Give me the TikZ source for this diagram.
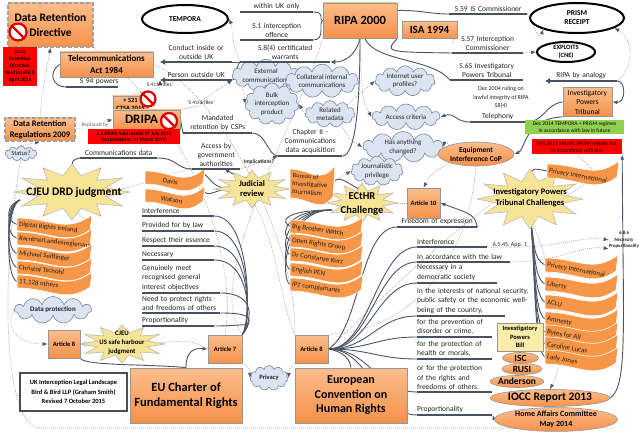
\documentclass[tikz,border=0pt]{standalone}
\usepackage{fontspec}
\setmainfont{Carlito}
\usetikzlibrary{shapes.geometric,shapes.symbols,arrows.meta,calc}
\pgfdeclarelayer{bg}
\pgfsetlayers{bg,main}
\newcommand\myfs[2]{\fontsize{#1}{#2}\selectfont}
\definecolor{orTop}{RGB}{252,190,140}
\definecolor{orBot}{RGB}{246,145,75}
\definecolor{orBorder}{RGB}{150,150,150}
\definecolor{burstFill}{RGB}{248,228,150}
\definecolor{burstDraw}{RGB}{185,185,185}
\definecolor{cloudFill}{RGB}{220,228,242}
\definecolor{cloudDraw}{RGB}{120,135,160}
\definecolor{flagFill}{RGB}{247,150,70}
\definecolor{barCol}{RGB}{72,82,98}
\definecolor{connCol}{RGB}{75,85,100}
\definecolor{dotCol}{RGB}{165,165,165}
\definecolor{greenBox}{RGB}{146,208,80}
\definecolor{billFill}{RGB}{252,236,170}
\definecolor{txt}{RGB}{35,35,35}
\tikzset{
 obox/.style={rectangle, draw=orBorder, line width=0.8pt, top color=orTop, bottom color=orBot, align=center, text=black, inner sep=1pt},
 dashbox/.style={obox, draw=gray!75, line width=1.4pt, dash pattern=on 4pt off 2pt},
 redbox/.style={rectangle, fill=red, align=center, text=black, inner sep=0.5pt},
 forbid/.style={circle, draw=red!85!black, line width=2.2pt, fill=white, inner sep=0pt},
 forbidline/.style={draw=red!85!black, line width=2.2pt},
 blackell/.style={ellipse, draw=black, line width=2pt, fill=white, align=center, inner sep=0pt},
 oell/.style={ellipse, draw=orBorder, line width=0.6pt, top color=orTop, bottom color=orBot, align=center, inner sep=0pt, text=black},
 cloudn/.style={cloud, cloud puffs=11, cloud ignores aspect, draw=cloudDraw, fill=cloudFill, line width=0.6pt, align=center, inner sep=0pt, text=txt, font=\myfs{7}{8.5}},
 burst/.style={fill=burstFill, draw=burstDraw, line width=0.6pt},
 bursttext/.style={align=center, text=black, inner sep=0pt},
 flag/.style={fill=flagFill, draw=white, line width=0.6pt},
 flagtext/.style={inner sep=0pt, text=txt, font=\myfs{7}{8}, align=left},
 lbl/.style={anchor=south west, inner xsep=0pt, inner ysep=2.2pt, text=txt, font=\myfs{7.5}{9}},
 bar/.style={draw=barCol, line width=2.4pt},
 conn/.style={draw=connCol, line width=0.9pt},
 connA/.style={conn, -{Latex[length=5pt,width=4pt]}},
 dots/.style={draw=dotCol, line width=0.7pt, dash pattern=on 0.8pt off 1.2pt},
 dotA/.style={dots, -{Latex[length=5pt,width=4pt,color=connCol]}},
 note/.style={inner sep=0pt, text=txt, align=center}
}
\newcommand\mkburst[5]{%
  \filldraw[burst] plot[samples at={0,15,...,345}] ({#2+#4*(1-0.4*mod(round(\x/15),2))*cos(\x)},{#3+#5*(1-0.4*mod(round(\x/15),2))*sin(\x)}) -- cycle;
  \coordinate (#1-n) at (#2,#3-#5*0.6);
  \coordinate (#1-s) at (#2,#3+#5*0.6);
  \coordinate (#1-e) at (#2+#4*0.6,#3);
  \coordinate (#1-w) at (#2-#4*0.6,#3);
}
\newcommand\mkflag[7]{%
 \begin{scope}[shift={(#2,#3)}]
  \filldraw[flag] (0,0) .. controls (0.45*#4,0) and (0.65*#4,16) .. (#4,-3) -- (#4-2,#5-1) .. controls (0.65*#4,#5+16) and (0.45*#4,#5) .. (0,#5) -- cycle;
  \node[flagtext, anchor=west, rotate=#7] (#1) at (2,0.5*#5) {#6};
  \coordinate (#1-l) at (0,0.5*#5);
  \coordinate (#1-r) at (#4,0.5*#5-3);
 \end{scope}}
\newcommand\mkforbid[3]{\node[forbid, minimum size=#3pt] (#1) at #2 {}; \draw[forbidline] (#1.north west) -- (#1.south east);}
\begin{document}
\begin{tikzpicture}[x=1pt,y=-1pt]
\useasboundingbox (0,0) rectangle (640,433);

% ---------- top left
\node[dashbox, minimum width=85pt, minimum height=44pt, font=\myfs{11.5}{15}\bfseries] (drd) at (50.5,25) {Data Retention\\Directive};
\mkforbid{nf1}{(18,32)}{17}
\node[redbox, minimum width=34pt, minimum height=39pt, font=\myfs{5.3}{7}\bfseries] (red1) at (20,66.5) {Data\\Retention\\Directive\\held invalid 8\\April 2014};
\node[obox, minimum width=93pt, minimum height=25pt, font=\myfs{9}{11.5}\bfseries] (tel) at (106.5,64.5) {Telecommunications\\Act 1984};
\node[obox, minimum width=35pt, minimum height=16pt, font=\myfs{6.5}{8}\bfseries] (ctsa) at (130.5,104) {+ S21\\CTSA 2015};
\mkforbid{nf2}{(148,99)}{15}
\node[obox, minimum width=67pt, minimum height=19pt, font=\myfs{13}{14}\bfseries] (dripa) at (146.5,119.5) {DRIPA\hspace*{10pt}};
\mkforbid{nf3}{(169,121)}{16}
\node[redbox, minimum width=92pt, minimum height=15pt, font=\myfs{5.2}{6.5}\bfseries] (red2) at (134,137) {S.1 DRIPA held invalid 17 July 2015\\(suspended to 31 March 2016)};
\node[dashbox, minimum width=70pt, minimum height=23pt, font=\myfs{8.5}{10.5}\bfseries] (drr) at (40,129.5) {Data Retention\\Regulations 2009};
\node[note, font=\myfs{5.5}{6.5}, text=gray!80!black, fill=white, inner sep=0.5pt] (repl) at (95,125) {Replaced by};
\node[cloudn, minimum width=32pt, minimum height=15pt, font=\myfs{6.5}{7}] (status) at (21,153.5) {Status?};
\node[note, font=\myfs{5.5}{6.5}] (cl1) at (160,85) {S 4'clarifies'};
\node[note, font=\myfs{5.5}{6.5}] (cl2) at (201,103) {'S 4'clarifies'};

% ---------- top centre
\node[blackell, minimum width=86pt, minimum height=28pt, font=\myfs{7.5}{9}\bfseries] (tempora) at (185,19) {TEMPORA};
\node[lbl, text width=73pt, align=center] (withinuk) at (240,12) {within UK only};
\node[lbl, text width=73pt, align=center] (s1) at (240,40) {S.1 interception\\offence};
\node[lbl, text width=90pt, align=center] (s84) at (240,62) {S.8(4) certificated\\warrants};
\node[lbl, text width=72pt, align=center] (conduct) at (160,62) {Conduct inside or\\outside UK};
\node[lbl, text width=72pt, align=center] (person) at (160,80) {Person outside UK};
\node[lbl, text width=52pt, align=right] (s94) at (66,87) {S 94 powers};
\node[lbl, text width=69pt, align=center] (mandated) at (183,133) {Mandated\\retention by CSPs};
\node[lbl, text width=77pt, align=center] (commdata) at (80,158) {Communications data};
\node[lbl, text width=48pt, align=center] (accessby) at (192,169) {Access by\\government\\authorities};
\node[lbl, text width=64pt, align=center] (chap2) at (278,156) {Chapter II -\\Communications\\data acquisition};
\node[note, font=\myfs{5.5}{6.5}\bfseries] (implic) at (259,162) {Implications?};

\node[obox, minimum width=74pt, minimum height=35pt, font=\myfs{12.5}{14}\bfseries] (ripa) at (360,20.5) {RIPA 2000};
\node[obox, minimum width=55pt, minimum height=17pt, font=\myfs{11}{12}\bfseries] (isa) at (429.5,30) {ISA 1994};
\node[lbl, text width=78pt, align=center] (s59) at (449,14) {S.59 IS Commissioner};
\node[lbl, text width=71pt, align=center] (s57) at (452,53) {S.57 Interception\\Commissioner};
\node[lbl, text width=73pt, align=center] (s65) at (450,80) {S.65 Investigatory\\Powers Tribunal};

% ---------- top right
\node[blackell, minimum width=94pt, minimum height=30pt, font=\myfs{7.5}{9}\bfseries] (prism) at (577,18) {PRISM\\RECEIPT};
\node[blackell, minimum width=58pt, minimum height=20pt, font=\myfs{6.5}{7.5}\bfseries] (exploits) at (566,52) {EXPLOITS\\(CNE)};
\node[lbl, text width=72pt, align=center] (ripaan) at (545,81) {RIPA by analogy};
\node[note, font=\myfs{6}{8.3}] (dec2004) at (501,97.5) {Dec 2004 ruling on\\lawful integrity of RIPA\\S8(4)};
\node[lbl, text width=55pt, align=center] (telephony) at (470,122) {Telephony};
\node[obox, minimum width=49pt, minimum height=29pt, inner sep=0.5pt, font=\myfs{7.5}{9.5}] (ipt) at (587.5,102) {Investigatory\\Powers\\Tribunal};
\node[rectangle, fill=greenBox, minimum width=99pt, minimum height=14pt, inner sep=0.5pt, align=center, font=\myfs{5.5}{6.5}, text=black] (green) at (574.5,127) {Dec 2014 TEMPORA + PRISM regimes\\in accordance with law in future};
\node[redbox, minimum width=90pt, minimum height=15pt, font=\myfs{5.5}{6.5}] (red3) at (577,147) {Feb 2015 historic PRISM regime not\\in accordance with law};

% ---------- clouds
\node[cloudn, minimum width=54pt, minimum height=24pt] (extcom) at (266,75.5) {External\\communications};
\node[cloudn, minimum width=70pt, minimum height=28pt] (collat) at (322,81) {Collateral internal\\communications};
\node[cloudn, minimum width=48pt, minimum height=33pt] (bulk) at (272,104) {Bulk\\interception\\product};
\node[cloudn, minimum width=50pt, minimum height=27pt] (related) at (330,114) {Related\\metadata};
\node[cloudn, minimum width=60pt, minimum height=30pt] (internet) at (405,81) {Internet user\\profiles?};
\node[cloudn, minimum width=68pt, minimum height=26pt] (access) at (406,117) {Access criteria};
\node[cloudn, minimum width=80pt, minimum height=28pt] (changed) at (403,147) {Has anything\\changed?};
\node[cloudn, minimum width=52pt, minimum height=23pt] (journ) at (377,171) {Journalistic\\privilege};
\node[oell, minimum width=76pt, minimum height=24pt, font=\myfs{7.5}{9}\bfseries] (eicop) at (476,154) {Equipment\\Interference CoP};

% ---------- bursts
\mkburst{cjeu}{72}{192}{58}{28}
\node[bursttext, font=\myfs{11.5}{13}\bfseries] (cjeu) at (74,192) {CJEU DRD judgment};
\mkburst{jr}{252}{189}{38}{19}
\node[bursttext, font=\myfs{8.5}{10}\bfseries] (jr) at (252,189) {Judicial\\review};
\mkburst{ecthr}{362}{203}{36}{20}
\node[bursttext, font=\myfs{10.5}{14}\bfseries] (ecthr) at (362,204) {ECtHR\\Challenge};
\mkburst{iptch}{530}{199}{53}{30}
\node[bursttext, font=\myfs{8.5}{11}\bfseries] (iptch) at (530,198) {Investigatory Powers\\Tribunal Challenges};
\mkburst{safeh}{122}{344}{43}{19}
\node[bursttext, font=\myfs{6.8}{9.3}\bfseries] (safeh) at (122,343) {CJEU\\US safe harbour\\judgment};

% ---------- flags
\mkflag{fdri}{17}{218}{75}{13}{Digital Rights Ireland}{-6}
\mkflag{fklr}{17}{232}{75}{13}{KarntnerLandesregierung}{-6}
\mkflag{fms}{17}{247}{75}{13}{Michael Seitlinger}{-6}
\mkflag{fct}{17}{261}{75}{13}{Christof Tschohl}{-6}
\mkflag{foth}{17}{275}{75}{13}{11,128 others}{-6}
\mkflag{fdav}{145}{171}{60}{13}{\hspace*{16pt}Davis}{-10}
\mkflag{fwat}{145}{189}{60}{13}{\hspace*{14pt}Watson}{-10}
\mkflag{fbij}{290}{169}{45}{29}{\myfs{6.5}{9.5}Bureau of\\Investigative\\Journalism}{-4}
\mkflag{fbbw}{290}{220}{73}{13}{Big Brother Watch}{-8}
\mkflag{forg}{290}{234}{73}{13}{Open Rights Group}{-8}
\mkflag{fck}{290}{248}{73}{13}{Dr Constanze Kurz}{-8}
\mkflag{fpen}{290}{263}{73}{13}{English PEN}{-8}
\mkflag{fipt}{290}{278}{73}{13}{IPT complainants}{-8}
\mkflag{fpi1}{547}{164}{72}{14}{Privacy International}{-10}
\mkflag{fpi2}{545}{258}{73}{14}{Privacy International}{-10}
\mkflag{flib}{545}{277}{73}{14}{Liberty}{-10}
\mkflag{faclu}{545}{295}{73}{14}{ACLU}{-10}
\mkflag{famn}{545}{312}{73}{14}{Amnesty}{-10}
\mkflag{fbyt}{545}{325}{73}{14}{Bytes for All}{-10}
\mkflag{fcar}{545}{337}{73}{14}{Caroline Lucas}{-10}
\mkflag{flady}{545}{350}{73}{14}{Lady Jones}{-10}

% ---------- CJEU list
\node[lbl, text width=72pt, align=left] (cint) at (142,216) {Interference};
\node[lbl, text width=72pt, align=left] (claw) at (142,231) {Provided for by law};
\node[lbl, text width=72pt, align=left] (cess) at (142,246) {Respect their essence};
\node[lbl, text width=72pt, align=left] (cnec) at (142,260) {Necessary};
\node[lbl, text width=78pt, align=left, font=\myfs{7.5}{9.5}] (cgen) at (142,293) {Genuinely meet\\recognised general\\interest objectives};
\node[lbl, text width=78pt, align=left, font=\myfs{7.5}{9.5}] (cneed) at (142,313) {Need to protect rights\\and freedoms of others};
\node[lbl, text width=72pt, align=left] (cprop) at (142,326) {Proportionality};

% ---------- ECHR list
\node[lbl, text width=70pt, align=left] (eint) at (417,247) {Interference};
\node[lbl, text width=93pt, align=left] (elaw) at (417,262) {In accordance with the law};
\node[lbl, text width=80pt, align=left, font=\myfs{7.5}{9.5}] (enec) at (417,283) {Necessary in a\\democratic society};
\node[lbl, text width=112pt, align=left, font=\myfs{7.5}{9.5}] (enat) at (417,316) {in the interests of national security,\\public safety or the economic well-\\being of the country,};
\node[lbl, text width=75pt, align=left, font=\myfs{7.5}{9.5}] (eprev) at (417,337) {for the prevention of\\disorder or crime,};
\node[lbl, text width=75pt, align=left, font=\myfs{7.5}{9.5}] (eheal) at (417,359) {for the protection of\\health or morals,};
\node[lbl, text width=75pt, align=left, font=\myfs{7.5}{9.5}] (efree) at (417,392) {or for the protection\\of the rights and\\freedoms of others.};
\node[lbl, text width=75pt, align=left] (eprop) at (417,415) {Proportionality};
\node[lbl, text width=80pt, align=center] (freedom) at (397,227) {Freedom of expression};
\node[note, font=\myfs{6}{7.5}] (appx) at (510,245) {6.5.45, App. 1};
\node[note, font=\myfs{4.8}{6.5}\bfseries] (n686) at (624,240) {6.8.6\\Necessity\\Proportionality};

% ---------- articles and bottom
\node[obox, minimum width=33pt, minimum height=30pt, font=\myfs{6.5}{8}\bfseries] (art10) at (423.5,203) {Article 10};
\node[obox, minimum width=34pt, minimum height=28pt, font=\myfs{6.5}{8}\bfseries] (art7) at (225,349) {Article 7};
\node[obox, minimum width=32pt, minimum height=28pt, font=\myfs{6.5}{8}\bfseries] (art8l) at (64,344) {Article 8};
\node[obox, minimum width=33pt, minimum height=28pt, font=\myfs{6.5}{8}\bfseries] (art8r) at (311.5,349) {Article 8};
\node[cloudn, minimum width=77pt, minimum height=27pt, font=\myfs{7}{8}\bfseries] (dataprot) at (53,310) {Data protection};
\node[cloudn, minimum width=38pt, minimum height=25pt, font=\myfs{6.5}{8}\bfseries] (privacy) at (269,378) {Privacy};
\node[rectangle, draw=gray!60!black, line width=1.5pt, fill=white, minimum width=107pt, minimum height=38pt, align=center, inner sep=0pt, font=\myfs{6.5}{9.3}\bfseries] (ukbox) at (73.5,392) {UK Interception Legal Landscape\\Bird \& Bird LLP (Graham Smith)\\Revised 7 October 2015};
\node[obox, minimum width=112pt, minimum height=55pt, font=\myfs{12.5}{15}\bfseries] (euc) at (186,395.5) {EU Charter of\\Fundamental Rights};
\node[obox, minimum width=112pt, minimum height=55pt, font=\myfs{12}{14.5}\bfseries] (echr) at (351,395.5) {European\\Convention on\\Human Rights};
\node[rectangle, draw=orBorder, fill=billFill, line width=0.6pt, minimum width=46pt, minimum height=28pt, inner sep=0pt, align=center, font=\myfs{6.5}{8.5}\bfseries] (bill) at (520,337) {Investigatory\\Powers\\Bill};
\node[oell, minimum width=36pt, minimum height=11pt, font=\myfs{9.5}{10}\bfseries] (isc) at (520.5,358) {ISC};
\node[oell, minimum width=40pt, minimum height=11pt, font=\myfs{9.5}{10}\bfseries] (rusi) at (522,369) {RUSI};
\node[oell, minimum width=50pt, minimum height=12pt, font=\myfs{9.5}{10}\bfseries] (anderson) at (517,381.5) {Anderson};
\node[oell, minimum width=120pt, minimum height=17pt, font=\myfs{11.5}{12}\bfseries] (iocc) at (550,398) {IOCC Report 2013};
\node[oell, minimum width=123pt, minimum height=22pt, font=\myfs{8}{10}\bfseries] (home) at (556,419.5) {Home Affairs Committee\\May 2014};

% ---------- bars
\foreach \n in {withinuk,s1,s84,s94,mandated,commdata,accessby,chap2,s59,s57,s65,telephony,cint,claw,cess,cnec,cgen,cneed,cprop,eint,elaw,enec,eprev,eheal,efree,eprop,freedom}
  \draw[bar] (\n.south west) -- (\n.south east);
\draw[bar] (enat.south west) -- ++(88,0);
\draw[bar, {Latex[length=5pt,width=6pt]}-] (conduct.south west) -- (conduct.south east);
\draw[bar, {Latex[length=5pt,width=6pt]}-] (person.south west) -- (person.south east);
\draw[bar, {Latex[length=5pt,width=6pt]}-] (ripaan.south west) -- (ripaan.south east);

\coordinate (cjeuL) at (20,200);
\coordinate (ecthrL) at (332,210);
\coordinate (bottomR) at (612,428);
\coordinate (bgA) at (0,0);
\coordinate (bgB) at (640,433);

\begin{pgfonlayer}{bg}
\fill[white] (bgA) rectangle (bgB);
% faint dotted background curves
\draw[dots] (status.south) .. controls (2,260) and (0,425) .. (40,428) -- (bottomR);
\draw[dots] (drd.south east) .. controls (180,110) and (240,250) .. (art7.north);
\draw[dots] (tel.east) .. controls (220,90) and (300,250) .. (art8r.north west);
\draw[dots] (ripa.south west) .. controls (300,120) and (200,280) .. (art7.north east);
\draw[dots] (eicop.south) .. controls (470,250) and (420,330) .. (art8r.north east);
\draw[dots] (iptch-w) .. controls (440,240) and (380,300) .. (art8r.east);
\draw[dotA] (iptch-s) .. controls (565,300) and (565,360) .. (iocc.north);
\draw[dots] (dataprot.north) .. controls (60,260) and (120,240) .. (cjeu-s);
\draw[dotA] (art8r.north west) .. controls (280,300) and (276,240) .. (jr-s);
\draw[dotA] (eint.south east) .. controls (560,250) and (580,235) .. (n686.west);
\draw[dotA] (elaw.south east) .. controls (560,262) and (580,245) .. (n686.south west);
\draw[dotA] (red3.south) .. controls (600,175) .. (iptch-e);

% top left
\draw[conn] (tel.west) .. controls (48,72) and (52,87) .. (s94.south west);
\draw[dotA] (drr.north) .. controls (42,95) .. (drd.south);
\draw[dotA] (drr.east) -- (dripa.west);
\draw[dotA] (status.north) -- (drr.south);
\draw[dots] (ctsa.north) -- (cl1.south);
\draw[dotA] (cl1.north) -- (person.south west);
\draw[dots] (dripa.north east) -- (cl2.south);
\draw[dotA] (cl2.north) -- (person.south east);
\draw[conn] (dripa.east) -- (mandated.south west);
\draw[conn] (mandated.south east) .. controls (266,133) and (268,156) .. (chap2.south west);
\draw[conn] (commdata.south east) .. controls (178,158) and (176,169) .. (accessby.south west);
\draw[dotA] (accessby.south east) -- (chap2.south west);
\draw[connA] (commdata.south west) .. controls (72,160) .. (cjeu-n);
\draw[dotA] (accessby.south west) .. controls (160,175) and (145,185) .. (cjeu-e);

% RIPA
\draw[conn] (person.south east) .. controls (237,80) and (236,66) .. (s84.south west);
\draw[conn] (conduct.south east) -- (s84.south west);
\draw[conn, -{Latex[length=5pt,width=5pt]}] (ripa.south) .. controls (356,55) and (345,62) .. (s84.south east);
\draw[conn] (ripa.west) .. controls (318,20) and (326,12) .. (withinuk.south east);
\draw[conn] (ripa.west) .. controls (318,22) and (326,40) .. (s1.south east);
\draw[dotA] (s84.south west) .. controls (232,45) and (232,25) .. (tempora.east);
\draw[conn] (ripa.15) .. controls (420,10) and (430,14) .. (s59.south west);
\draw[conn] (ripa.south east) .. controls (385,52) .. (s57.south west);
\draw[conn] (ripa.-75) .. controls (375,62) and (432,58) .. (s65.south west);
\draw[conn] (ripa.south) .. controls (360,100) and (356,156) .. (chap2.south east);
\draw[dotA] (s57.west) -- (isa.east);
\draw[dotA] (s57.south east) -- (exploits.west);
\draw[dotA] (s59.south east) .. controls (540,40) .. (prism.south west);
\draw[dotA] (ripaan.south east) .. controls (632,70) and (636,40) .. (prism.-15);
\draw[connA] (ripaan.south east) .. controls (626,81) and (626,103) .. (ipt.east);
\draw[connA] (telephony.south west) .. controls (455,122) and (455,112) .. (access.east);
\draw[conn] (telephony.south east) .. controls (545,122) and (545,104) .. (ipt.west);
\draw[connA] (ipt.south west) .. controls (525,118) and (525,150) .. (eicop.east);
\draw[connA] (iocc.east) .. controls (628,385) and (623,330) .. (red3.south east);

% clouds
\draw[dots] (s84.south west) -- (extcom.west);
\draw[dotA] (extcom.south west) .. controls (244,92) .. (bulk.west);
\draw[dotA] (collat.south west) -- (bulk.north east);
\draw[dotA] (related.west) -- (bulk.east);
\draw[dotA] (related.north east) -- (internet.west);
\draw[dotA] (ripa.south) .. controls (362,100) .. (access.west);
\draw[dotA] (chap2.north east) .. controls (350,140) .. (changed.west);
\draw[dotA] (eicop.north west) .. controls (445,140) .. (changed.east);
\draw[dotA] (fbij-r) -- (journ.west);

% CJEU
\foreach \f in {fdri,fklr,fms,fct,foth}
  \draw[conn] (cjeuL) .. controls (6,205) and ($(\f-l)+(-12,-4)$) .. (\f-l);
\foreach \n in {cint,claw,cess,cnec,cgen,cneed,cprop}
  \draw[conn] (\n.south east) .. controls ($(\n.south east)+(36,0)$) and (252,320) .. (art7.north east);
\draw[connA] (fdav-r) .. controls (210,178) and (212,186) .. (jr-w);
\draw[conn] (fwat-r) .. controls (212,196) and (214,190) .. (jr-w);
\draw[connA] (jr-n) .. controls (240,178) .. (accessby.-60);

% ECtHR
\foreach \f in {fbbw,forg,fck,fpen,fipt}
  \draw[conn] (ecthrL) .. controls (284,210) and ($(\f-l)+(-10,-5)$) .. (\f-l);
\draw[connA] (fbij-r) .. controls (340,178) .. (ecthr-n);
\draw[dotA] (art10.west) -- (ecthr-e);
\draw[connA] (freedom.south east) .. controls (474,215) .. (art10.east);
\draw[dotA] (eicop.south west) .. controls (430,175) .. (art10.north);

% IPT
\draw[connA] (fpi1-l) .. controls (532,168) .. (iptch-n);
\foreach \f in {fpi2,flib,faclu,famn,fbyt,fcar,flady}
  \draw[conn] (iptch-s) .. controls (535,245) and ($(\f-l)+(-12,-6)$) .. (\f-l);

% ECHR
\foreach \n in {eint,elaw,enec,eprev,eheal,efree,eprop}
  \draw[conn] (art8r.east) .. controls (370,349) and ($(\n.south west)+(-40,0)$) .. (\n.south west);
\draw[conn] (art8r.east) .. controls (370,349) and (377,316) .. (enat.south west);
\draw[conn] (art8r.east) .. controls (360,330) and (360,227) .. (freedom.south west);
\draw[conn] (art8r.east) .. controls (345,352) and (350,360) .. (echr.north);
\draw[connA] (home.west) -- (eprop.south east);

% bottom left
\draw[connA] (euc.north) .. controls (186,350) and (195,348) .. (art7.west);
\draw[conn] (euc.north) .. controls (150,364) and (85,366) .. (art8l.south east);
\draw[connA] (safeh-w) -- (art8l.east);
\draw[dotA] (art7.west) .. controls (190,340) .. (safeh-e);
\draw[dotA] (dataprot.west) .. controls (4,330) and (20,344) .. (art8l.west);
\draw[dotA] (art7.south east) .. controls (250,368) .. (privacy.west);
\draw[dotA] (art8r.south west) .. controls (290,368) .. (privacy.east);
\end{pgfonlayer}
\end{tikzpicture}
\end{document}
